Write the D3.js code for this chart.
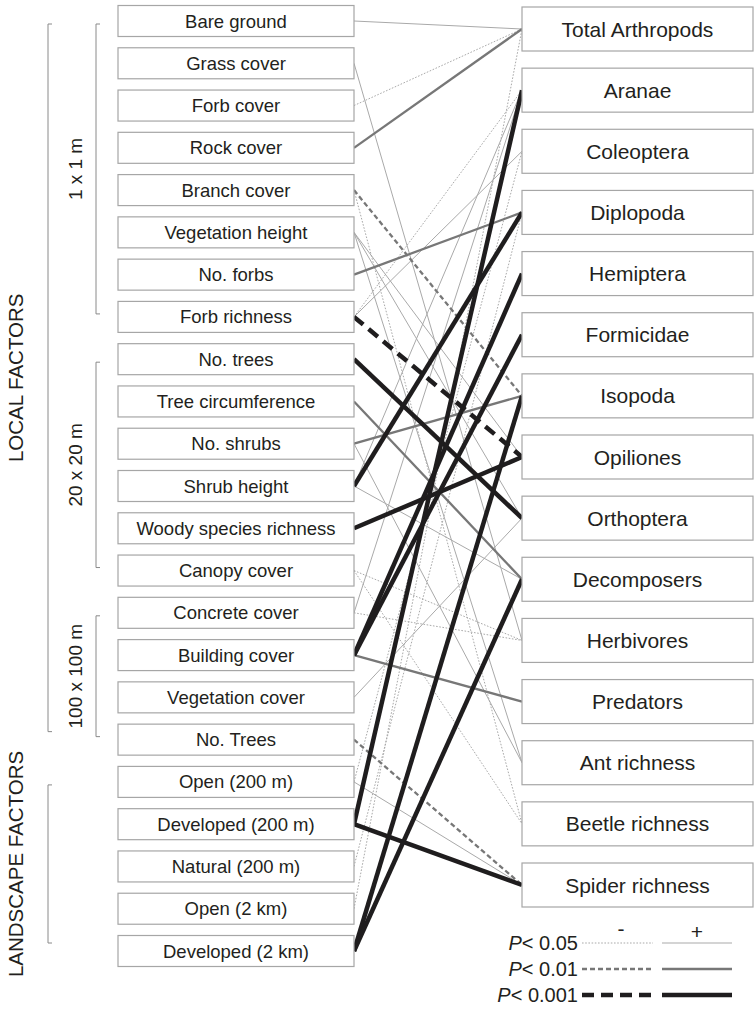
<!DOCTYPE html>
<html>
<head>
<meta charset="utf-8">
<script src="https://cdn.jsdelivr.net/npm/d3@7"></script>
<style>
  body { margin: 0; background: #fff; }
  text { font-family: "Liberation Sans", Arial, Helvetica, sans-serif; fill: #231f20; }
</style>
</head>
<body>
<div id="chart"></div>
<script>
// left column: local + landscape factors
const factors = [
  "Bare ground", "Grass cover", "Forb cover", "Rock cover", "Branch cover",
  "Vegetation height", "No. forbs", "Forb richness",
  "No. trees", "Tree circumference", "No. shrubs", "Shrub height",
  "Woody species richness", "Canopy cover",
  "Concrete cover", "Building cover", "Vegetation cover", "No. Trees",
  "Open (200 m)", "Developed (200 m)", "Natural (200 m)", "Open (2 km)", "Developed (2 km)"
];

// right column: arthropod responses
const responses = [
  "Total Arthropods", "Aranae", "Coleoptera", "Diplopoda", "Hemiptera", "Formicidae",
  "Isopoda", "Opiliones", "Orthoptera", "Decomposers", "Herbivores", "Predators",
  "Ant richness", "Beetle richness", "Spider richness"
];

// inner brackets (scale of measurement) and outer brackets
const scaleGroups = ["1 x 1 m", "20 x 20 m", "100 x 100 m"];
const scaleGroupSpan = [["Bare ground", "Forb richness"], ["No. trees", "Canopy cover"], ["Concrete cover", "No. Trees"]];
const factorGroups = ["LOCAL FACTORS", "LANDSCAPE FACTORS"];
const factorGroupSpan = [["Bare ground", "No. Trees"], ["Open (200 m)", "Developed (2 km)"]];

// significant relationships: [factor, response, P level, sign]
const links = [
  ["Bare ground", "Total Arthropods", 0.05, "+"],
  ["Forb cover", "Total Arthropods", 0.05, "-"],
  ["Open (2 km)", "Total Arthropods", 0.05, "-"],
  ["Grass cover", "Herbivores", 0.05, "+"],
  ["Branch cover", "Beetle richness", 0.05, "-"],
  ["Vegetation height", "Opiliones", 0.05, "+"],
  ["Vegetation height", "Orthoptera", 0.05, "+"],
  ["Vegetation height", "Ant richness", 0.05, "+"],
  ["Forb richness", "Aranae", 0.05, "-"],
  ["Forb richness", "Coleoptera", 0.05, "+"],
  ["No. shrubs", "Ant richness", 0.05, "+"],
  ["Shrub height", "Aranae", 0.05, "+"],
  ["Shrub height", "Decomposers", 0.05, "+"],
  ["Canopy cover", "Herbivores", 0.05, "-"],
  ["Canopy cover", "Beetle richness", 0.05, "-"],
  ["Concrete cover", "Aranae", 0.05, "+"],
  ["Concrete cover", "Herbivores", 0.05, "-"],
  ["Vegetation cover", "Orthoptera", 0.05, "+"],
  ["Open (200 m)", "Coleoptera", 0.05, "-"],
  ["Open (200 m)", "Spider richness", 0.05, "+"],
  ["Natural (200 m)", "Diplopoda", 0.05, "-"],
  ["Rock cover", "Total Arthropods", 0.01, "+"],
  ["No. forbs", "Diplopoda", 0.01, "+"],
  ["Tree circumference", "Decomposers", 0.01, "+"],
  ["No. shrubs", "Isopoda", 0.01, "+"],
  ["Building cover", "Predators", 0.01, "+"],
  ["Branch cover", "Isopoda", 0.01, "-"],
  ["No. Trees", "Spider richness", 0.01, "-"],
  ["No. trees", "Orthoptera", 0.001, "+"],
  ["Shrub height", "Diplopoda", 0.001, "+"],
  ["Woody species richness", "Opiliones", 0.001, "+"],
  ["Building cover", "Hemiptera", 0.001, "+"],
  ["Building cover", "Formicidae", 0.001, "+"],
  ["Developed (200 m)", "Aranae", 0.001, "+"],
  ["Developed (200 m)", "Spider richness", 0.001, "+"],
  ["Developed (2 km)", "Isopoda", 0.001, "+"],
  ["Developed (2 km)", "Decomposers", 0.001, "+"],
  ["Forb richness", "Opiliones", 0.001, "-"]
];

const pLevels = [0.05, 0.01, 0.001];
const pLabels = ["0.05", "0.01", "0.001"];

const width = 754, height = 1010;
const style = {
  0.05:  { color: "#a9a9a9", w: 1,   dash: "1.6,1.6" },
  0.01:  { color: "#777777", w: 2.3, dash: "5,3" },
  0.001: { color: "#1f1d1e", w: 4.5, dash: "12,7" }
};

const svg = d3.select("#chart").append("svg")
  .attr("width", width)
  .attr("height", height);

const yL = d3.scalePoint().domain(factors).range([21, 951]);
const yR = d3.scalePoint().domain(responses).range([29, 885]);

const leftBox = { x: 118, w: 236, h: 31 };
const rightBox = { x: 522, w: 231, h: 44 };

// links, thin ones first so the heavy ones sit on top
const linkG = svg.append("g");
linkG.selectAll("line")
  .data(links.slice().sort((a, b) => b[2] - a[2]))
  .join("line")
  .attr("x1", leftBox.x + leftBox.w)
  .attr("y1", d => yL(d[0]))
  .attr("x2", rightBox.x)
  .attr("y2", d => yR(d[1]))
  .attr("stroke", d => style[d[2]].color)
  .attr("stroke-width", d => style[d[2]].w)
  .attr("stroke-dasharray", d => d[3] === "-" ? style[d[2]].dash : null);

// left boxes
const lg = svg.append("g").selectAll("g").data(factors).join("g")
  .attr("transform", d => `translate(${leftBox.x},${yL(d) - leftBox.h / 2})`);
lg.append("rect")
  .attr("width", leftBox.w).attr("height", leftBox.h)
  .attr("fill", "#fff").attr("stroke", "#a6a6a6").attr("stroke-width", 1.2);
lg.append("text")
  .attr("x", leftBox.w / 2).attr("y", leftBox.h / 2 + 6.5)
  .attr("text-anchor", "middle")
  .style("font-size", "18.5px")
  .text(d => d);

// right boxes
const rg = svg.append("g").selectAll("g").data(responses).join("g")
  .attr("transform", d => `translate(${rightBox.x},${yR(d) - rightBox.h / 2})`);
rg.append("rect")
  .attr("width", rightBox.w).attr("height", rightBox.h)
  .attr("fill", "#fff").attr("stroke", "#a6a6a6").attr("stroke-width", 1.2);
rg.append("text")
  .attr("x", rightBox.w / 2).attr("y", rightBox.h / 2 + 7.5)
  .attr("text-anchor", "middle")
  .style("font-size", "21px")
  .text(d => d);

// brackets
function bracket(x, y0, y1, label, lx, size) {
  const g = svg.append("g");
  g.append("path")
    .attr("d", `M${x + 4},${y0}H${x}V${y1}H${x + 4}`)
    .attr("fill", "none").attr("stroke", "#8a8a8a").attr("stroke-width", 1);
  g.append("text")
    .attr("transform", `translate(${lx},${(y0 + y1) / 2}) rotate(-90)`)
    .attr("text-anchor", "middle")
    .style("font-size", size + "px")
    .text(label);
}
scaleGroups.forEach((name, i) => {
  const [a, b] = scaleGroupSpan[i];
  bracket(96, yL(a) + 3, yL(b) - 3, name, 82, 19);
});
factorGroups.forEach((name, i) => {
  const [a, b] = factorGroupSpan[i];
  bracket(48, yL(a) + 3, yL(b) - 8, name, 23, 20.5);
});

// legend
const leg = svg.append("g");
const legY = d3.scalePoint().domain(pLevels).range([943, 995]);
leg.append("text").attr("x", 621).attr("y", 936).attr("text-anchor", "middle")
  .style("font-size", "21px").text("-");
leg.append("text").attr("x", 697).attr("y", 939).attr("text-anchor", "middle")
  .style("font-size", "21px").text("+");
pLevels.forEach((p, i) => {
  const y = legY(p);
  const t = leg.append("text").attr("x", 578).attr("y", y + 7)
    .attr("text-anchor", "end").style("font-size", "20px");
  t.append("tspan").style("font-style", "italic").text("P");
  t.append("tspan").text("< " + pLabels[i]);
  leg.append("line").attr("x1", 582).attr("x2", 653).attr("y1", y).attr("y2", y)
    .attr("stroke", style[p].color).attr("stroke-width", style[p].w)
    .attr("stroke-dasharray", style[p].dash);
  leg.append("line").attr("x1", 662).attr("x2", 732).attr("y1", y).attr("y2", y)
    .attr("stroke", style[p].color).attr("stroke-width", style[p].w);
});
</script>
</body>
</html>
